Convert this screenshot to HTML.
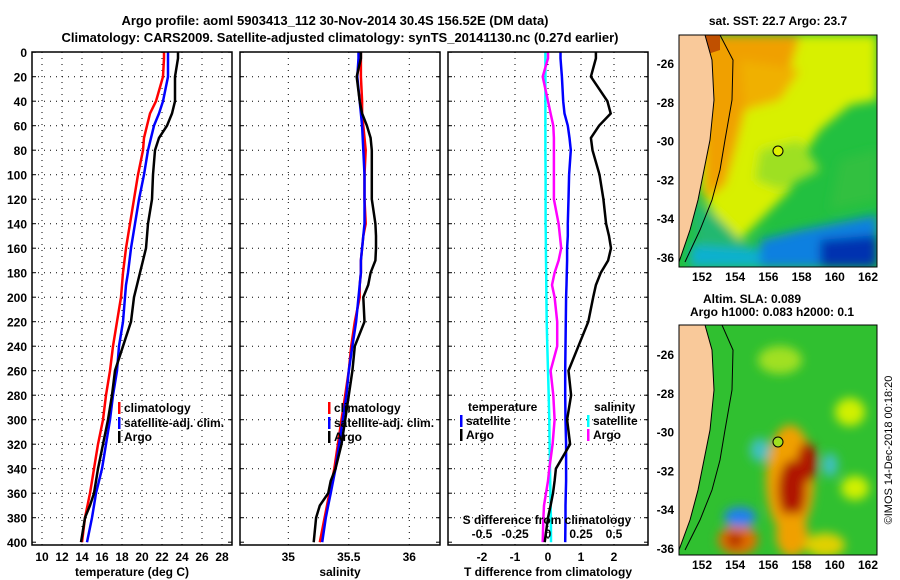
<!DOCTYPE html>
<html><head><meta charset="utf-8"><style>
body{margin:0;background:#fff;}
svg{display:block;font-family:"Liberation Sans",sans-serif;font-weight:bold;}
</style></head><body>
<svg id="c" width="900" height="580" viewBox="0 0 900 580">
<defs>
<filter id="bl" x="-20%" y="-20%" width="140%" height="140%"><feGaussianBlur stdDeviation="5"/></filter>
<filter id="bl2" x="-20%" y="-20%" width="140%" height="140%"><feGaussianBlur stdDeviation="5"/></filter>
<clipPath id="m1c"><rect x="679" y="35" width="198" height="232"/></clipPath>
<clipPath id="m2c"><rect x="679" y="325" width="198" height="230"/></clipPath>
</defs>
<text x="335" y="25" font-size="13" text-anchor="middle">Argo profile: aoml 5903413_112 30-Nov-2014 30.4S 156.52E (DM data)</text>
<text x="340" y="42" font-size="13" text-anchor="middle">Climatology: CARS2009. Satellite-adjusted climatology: synTS_20141130.nc (0.27d earlier)</text>
<g id="plots"></g>
<g>
<text x="778" y="25" font-size="12" text-anchor="middle">sat. SST: 22.7 Argo: 23.7</text>
<g clip-path="url(#m1c)">
<rect x="679" y="35" width="198" height="232" fill="#22c040"/>
<g filter="url(#bl)">
<polygon points="700,35 877,35 877,100 850,105 820,130 800,160 790,190 760,220 740,240 715,215 700,190 690,35" fill="#d8f000"/>
<polygon points="700,35 800,35 790,70 745,110 735,150 725,185 705,200" fill="#f0a000"/>
<polygon points="740,60 800,70 780,100 745,110" fill="#f0b000"/>
<polygon points="760,150 800,140 820,170 780,190 755,180" fill="#9ee020"/>
<polygon points="840,160 877,150 877,200 830,210" fill="#30c040"/>
<polygon points="690,200 715,215 740,240 760,250 700,262" fill="#20b870"/>
<polygon points="760,240 800,230 877,215 877,267 760,267" fill="#1080e0"/>
<polygon points="820,240 877,235 877,267 820,267" fill="#0030b0"/>
<polygon points="690,245 760,250 760,267 690,267" fill="#10b0d0"/>
</g>
<polygon points="700,35 720,35 720,50 705,55" fill="#c05000"/>
<polygon points="679,35 705,35 712,60 714,100 710,140 705,165 698,200 690,230 679,262" fill="#f9c99a" stroke="#000" stroke-width="1"/>
<polyline points="720,35 733,60 732,100 725,140 720,170 712,200 700,230 685,262" fill="none" stroke="#000" stroke-width="1"/>
<circle cx="778" cy="151" r="5" fill="#e0f000" stroke="#000"/>
</g>
<rect x="679" y="35" width="198" height="232" fill="none" stroke="#000"/>
</g>
<g>
<text x="752" y="303" font-size="12" text-anchor="middle">Altim. SLA: 0.089</text>
<text x="772" y="316" font-size="12" text-anchor="middle">Argo h1000: 0.083 h2000: 0.1</text>
<g clip-path="url(#m2c)">
<rect x="679" y="325" width="198" height="230" fill="#30c030"/>
<g filter="url(#bl2)">
<ellipse cx="790" cy="480" rx="24" ry="55" fill="#f0a000"/>
<ellipse cx="792" cy="490" rx="14" ry="30" fill="#b01800"/>
<ellipse cx="807" cy="462" rx="10" ry="20" fill="#b01800"/>
<ellipse cx="792" cy="535" rx="16" ry="22" fill="#f0a000"/>
<ellipse cx="738" cy="540" rx="20" ry="15" fill="#e07000"/>
<ellipse cx="735" cy="540" rx="8" ry="7" fill="#b02000"/>
<ellipse cx="740" cy="517" rx="16" ry="10" fill="#2080f0"/>
<ellipse cx="760" cy="450" rx="10" ry="12" fill="#40c0c0"/>
<ellipse cx="850" cy="412" rx="15" ry="14" fill="#d0f000"/>
<ellipse cx="855" cy="488" rx="14" ry="12" fill="#d0f000"/>
<ellipse cx="825" cy="545" rx="20" ry="12" fill="#e0d000"/>
<ellipse cx="830" cy="465" rx="8" ry="12" fill="#40c0c0"/>
<ellipse cx="780" cy="360" rx="22" ry="14" fill="#a0e020"/>
</g>
<polygon points="679,325 705,325 712,350 714,390 710,430 705,455 698,490 690,520 679,550" fill="#f9c99a" stroke="#000" stroke-width="1"/>
<polyline points="722,325 733,350 732,390 725,430 720,460 712,490 700,520 685,550" fill="none" stroke="#000" stroke-width="1"/>
<circle cx="778" cy="442" r="5" fill="#a0e020" stroke="#000"/>
</g>
<rect x="679" y="325" width="198" height="230" fill="none" stroke="#000"/>
</g>
<text x="892" y="450" font-size="11" font-weight="normal" text-anchor="middle" transform="rotate(-90 892 450)">©IMOS 14-Dec-2018 00:18:20</text>
</svg>
<script>
const depths=[0,5,20,40,50,60,70,80,100,120,140,150,160,170,180,190,200,220,240,260,280,300,320,340,350,360,370,380,400];
const tempClim=[22.2,22.2,22.1,21.4,20.8,20.5,20.2,20.1,19.6,19.2,18.8,18.6,18.4,18.25,18.1,18.0,17.9,17.5,17.1,16.8,16.4,16.1,15.6,15.2,15.0,14.8,14.55,14.3,14.0];
const tempSat=[22.6,22.6,22.6,22.1,21.7,21.2,20.9,20.6,20.2,19.7,19.3,19.1,18.9,18.75,18.6,18.4,18.3,18.1,17.7,17.5,17.1,16.8,16.4,16.0,15.7,15.4,15.2,15.0,14.5];
const tempArgo=[23.6,23.6,23.3,23.3,23.0,22.5,21.7,21.3,21.1,21.0,20.6,20.5,20.4,20.1,19.8,19.5,19.2,18.9,18.1,17.3,17.0,16.6,16.1,15.6,15.4,15.2,14.8,14.3,13.9];
const salClim=[35.60,35.60,35.60,35.61,35.61,35.62,35.63,35.64,35.63,35.63,35.64,35.62,35.61,35.60,35.60,35.59,35.59,35.55,35.52,35.50,35.47,35.44,35.41,35.38,35.36,35.34,35.32,35.30,35.26];
const salSat=[35.58,35.58,35.57,35.59,35.60,35.61,35.615,35.62,35.63,35.63,35.63,35.62,35.61,35.60,35.60,35.59,35.58,35.56,35.53,35.50,35.48,35.45,35.42,35.39,35.37,35.35,35.33,35.31,35.28];
const salArgo=[35.60,35.60,35.565,35.59,35.61,35.65,35.68,35.69,35.69,35.69,35.72,35.725,35.725,35.72,35.68,35.66,35.62,35.63,35.55,35.53,35.50,35.47,35.44,35.39,35.35,35.33,35.26,35.23,35.21];
const tdiffSat=[0.38,0.38,0.42,0.46,0.5,0.6,0.65,0.69,0.64,0.62,0.6,0.6,0.58,0.58,0.57,0.56,0.55,0.54,0.53,0.52,0.52,0.53,0.55,0.55,0.55,0.54,0.53,0.53,0.52];
const tdiffArgo=[1.45,1.45,1.3,1.8,1.9,1.55,1.3,1.35,1.56,1.68,1.76,1.85,1.91,1.82,1.6,1.45,1.37,1.22,0.92,0.62,0.7,0.58,0.67,0.24,0.2,0.15,0.08,0.0,-0.1];
const sdiffSat=[-0.02,-0.02,-0.02,-0.02,-0.02,-0.02,-0.02,-0.02,-0.018,-0.018,-0.018,-0.017,-0.016,-0.015,-0.014,-0.013,-0.012,-0.01,-0.005,0,0.005,0.01,0.012,0.015,0.017,0.018,0.02,0.022,0.023];
const sdiffArgo=[0,0,-0.04,0,0.02,0.04,0.045,0.045,0.045,0.045,0.08,0.09,0.1,0.08,0.05,0.03,0.05,0.07,0.07,0.02,0.04,0.05,0.035,0.01,0,-0.015,-0.03,-0.035,-0.04];
const depthTicks=[0,20,40,60,80,100,120,140,160,180,200,220,240,260,280,300,320,340,360,380,400];
const tempTicks=[10,12,14,16,18,20,22,24,26,28];
const salTicks=[35,35.5,36];
const tdTicks=[-2,-1,0,1,2];
const sdTicks=[-0.5,-0.25,0,0.25,0.5];
const sdLabels=["-0.5","-0.25","0","0.25","0.5"];
const NS="http://www.w3.org/2000/svg";
const root=document.getElementById('plots');
const Y=d=>52.2+d*1.225;
function el(t,a,p){const e=document.createElementNS(NS,t);for(const k in a)e.setAttribute(k,a[k]);(p||root).appendChild(e);return e;}
function txt(x,y,s,anchor,size,p){const e=el('text',{x:x,y:y,'font-size':size||12,'text-anchor':anchor||'middle'},p);e.textContent=s;return e;}
const panels=[{x0:32,name:'temperature-panel'},{x0:240,name:'salinity-panel'},{x0:448,name:'difference-panel'}];
const PW=200,PTOP=52,PBOT=545;
const xT=v=>42+(v-10)*10, xS=v=>288.3+(v-35)*121, xTD=v=>548+v*33, xSD=v=>548+v*132;
function line(xf,vals,color,name,p){
  const pts=depths.map((d,i)=>xf(vals[i]).toFixed(1)+','+Y(d).toFixed(1)).join(' ');
  const e=el('polyline',{points:pts,fill:'none',stroke:color,'stroke-width':2.5},p);
  
  
}
panels.forEach((P,pi)=>{
  const g=el('g',{});
  
  
  const xs = pi==0?tempTicks.map(xT):pi==1?salTicks.map(xS):tdTicks.map(xTD);
  depthTicks.forEach(d=>{ if(d>0&&d<400) el('line',{x1:P.x0,x2:P.x0+PW,y1:Y(d),y2:Y(d),stroke:'#000','stroke-dasharray':'1 5'},g); el('line',{x1:P.x0,x2:P.x0+4,y1:Y(d),y2:Y(d),stroke:'#000'},g);el('line',{x1:P.x0+PW-4,x2:P.x0+PW,y1:Y(d),y2:Y(d),stroke:'#000'},g);});
  xs.forEach(x=>{el('line',{x1:x,x2:x,y1:PTOP,y2:PBOT,stroke:'#000','stroke-dasharray':'1 5'},g);});
  if(pi==0){
    line(xT,tempClim,'#ff0000','temp-climatology-line',g);
    line(xT,tempSat,'#0000ff','temp-satellite-line',g);
    line(xT,tempArgo,'#000','temp-argo-line',g);
    tempTicks.forEach(t=>txt(xT(t),561,String(t),'middle',12,g));
    txt(132,576,'temperature (deg C)','middle',12,g);
    depthTicks.forEach(d=>txt(27,Y(d)+5,String(d),'end',12,g));
  } else if(pi==1){
    line(xS,salClim,'#ff0000','sal-climatology-line',g);
    line(xS,salSat,'#0000ff','sal-satellite-line',g);
    line(xS,salArgo,'#000','sal-argo-line',g);
    salTicks.forEach(t=>txt(xS(t),561,String(t),'middle',12,g));
    txt(340,576,'salinity','middle',12,g);
  } else {
    line(xSD,sdiffSat,'#00ffff','sdiff-satellite-line',g);
    line(xSD,sdiffArgo,'#ff00ff','sdiff-argo-line',g);
    line(xTD,tdiffSat,'#0000ff','tdiff-satellite-line',g);
    line(xTD,tdiffArgo,'#000','tdiff-argo-line',g);
    tdTicks.forEach(t=>txt(xTD(t),561,String(t),'middle',12,g));
    sdTicks.forEach((t,i)=>txt(xSD(t),538,sdLabels[i],'middle',12,g));
    txt(547,524,'S difference from climatology','middle',12,g);
    txt(548,576,'T difference from climatology','middle',12,g);
  }
  el('rect',{x:P.x0,y:PTOP,width:PW,height:PBOT-PTOP,fill:'none',stroke:'#000','stroke-width':1.5},g);
});
function leg(x,y,c,s,name){
  const g=el('g',{});
  
  
  el('rect',{x:x,y:y-10,width:2.5,height:12,fill:c},g);
  txt(x+6,y,s,'start',12,g);
}
leg(118,412,'#ff0000','climatology','legend-climatology');
leg(118,427,'#0000ff','satellite-adj. clim.','legend-satellite-adj');
leg(118,441,'#000','Argo','legend-argo');
leg(328,412,'#ff0000','climatology','legend-sal-climatology');
leg(328,427,'#0000ff','satellite-adj. clim.','legend-sal-satellite-adj');
leg(328,441,'#000','Argo','legend-sal-argo');
txt(468,411,'temperature','start',12);
leg(460,425,'#0000ff','satellite','legend-t-satellite');
leg(460,439,'#000','Argo','legend-t-argo');
txt(594,411,'salinity','start',12);
leg(587,425,'#00ffff','satellite','legend-s-satellite');
leg(587,439,'#ff00ff','Argo','legend-s-argo');
function mapAxes(y0,y1,latTop){
  const lons=[152,154,156,158,160,162], lats=[-26,-28,-30,-32,-34,-36];
  lons.forEach(l=>{const x=702+(l-152)*16.6;el('line',{x1:x,x2:x,y1:y1,y2:y1-4,stroke:'#000'});el('line',{x1:x,x2:x,y1:y0,y2:y0+4,stroke:'#000'});txt(x,y1+14,String(l),'middle',12);});
  lats.forEach(l=>{const y=latTop+(-26-l)*19.4;el('line',{x1:679,x2:683,y1:y,y2:y,stroke:'#000'});el('line',{x1:873,x2:877,y1:y,y2:y,stroke:'#000'});txt(674,y+4,String(l),'end',12);});
}
mapAxes(35,267,64);
mapAxes(325,555,355);
</script>
</body></html>
